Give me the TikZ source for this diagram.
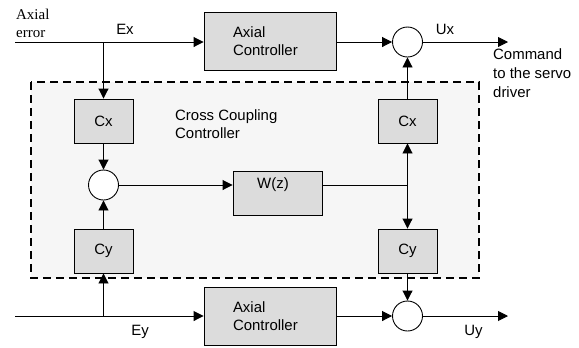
\documentclass[tikz,border=0pt]{standalone}
\usepackage{fontspec}
\setmainfont{Liberation Sans}
\newfontfamily\serifx{Liberation Serif}
\usetikzlibrary{arrows.meta}
\definecolor{boxgray}{HTML}{DCDCDC}
\definecolor{bggray}{HTML}{F6F6F6}
\begin{document}
\begin{tikzpicture}[x=1bp,y=-1bp,
  every node/.style={font=\fontsize{15}{18}\selectfont},
  blk/.style={draw, line width=0.9bp, fill=boxgray, inner sep=0pt},
  smallblk/.style={blk, minimum width=59bp, minimum height=44bp},
  ctrl/.style={blk, minimum width=132bp, minimum height=58bp, align=left, text width=74bp, inner xsep=29bp},
  sumpt/.style={draw, line width=0.9bp, fill=white, circle, minimum size=30bp, inner sep=0pt},
  conn/.style={line width=0.9bp},
  arr/.style={conn, -{Triangle[length=10bp,width=10bp]}},
  lbl/.style={inner sep=0pt}
]
\useasboundingbox (0,0) rectangle (579,347);
% cross coupling region
\draw[line width=2bp, dash pattern=on 8bp off 5bp, fill=bggray] (31,82) rectangle (479,278);

% blocks
\node[ctrl] (ax1) at (270,41.5) {Axial\\Controller};
\node[ctrl] (ax2) at (270,316) {Axial\\Controller};
\node[smallblk] (cx1) at (103.5,121) {Cx};
\node[smallblk] (cy1) at (103.5,251) {Cy};
\node[smallblk] (cx2) at (407.5,121) {Cx};
\node[smallblk] (cy2) at (407.5,251) {Cy};
\node[blk, minimum width=89bp, minimum height=44bp] (w) at (277.5,193) {};
\node[lbl] (wl) at (273,185) {W(z)};
\node[sumpt] (sL) at (103.5,185) {};
\node[sumpt] (sT) at (407.5,42) {};
\node[sumpt] (sB) at (407.5,316) {};

% coordinates
\coordinate (inX) at (15,42);
\coordinate (inY) at (15,316);
\coordinate (jX) at (103.5,42);
\coordinate (jY) at (103.5,316);
\coordinate (jR) at (407.5,185);
\coordinate (outX) at (508,42);
\coordinate (outY) at (508,316);

% connectors
\draw[arr] (inX) -- (ax1.west |- inX);
\draw[arr] (jX) -- (cx1);
\draw[arr] (cx1) -- (sL);
\draw[arr] (cy1) -- (sL);
\draw[arr] (jY) -- (cy1);
\draw[arr] (inY) -- (ax2.west |- inY);
\draw[arr] (sL) -- (w.west |- sL);
\draw[conn] (w.east |- jR) -- (jR);
\draw[arr] (jR) -- (cx2);
\draw[arr] (jR) -- (cy2);
\draw[arr] (cx2) -- (sT);
\draw[arr] (cy2) -- (sB);
\draw[arr] (ax1.east |- sT) -- (sT);
\draw[arr] (ax2.east |- sB) -- (sB);
\draw[arr] (sT) -- (outX);
\draw[arr] (sB) -- (outY);

% labels
\node[lbl, anchor=north west, align=left, font=\serifx\fontsize{15}{18}\selectfont] (ae) at (16,9) {Axial\\error};
\node[lbl] (ex) at (125,29) {Ex};
\node[lbl] (ux) at (445,29) {Ux};
\node[lbl] (ey) at (140,332) {Ey};
\node[lbl] (uy) at (473.5,332) {Uy};
\node[lbl, anchor=north west, align=left, font=\fontsize{15}{19.5}\selectfont] (cmd) at (493,48) {Command\\to the servo\\driver};
\node[lbl, anchor=west, align=left, font=\fontsize{15}{18}\selectfont] (ccc) at (175,124) {Cross Coupling\\Controller};
\end{tikzpicture}
\end{document}
